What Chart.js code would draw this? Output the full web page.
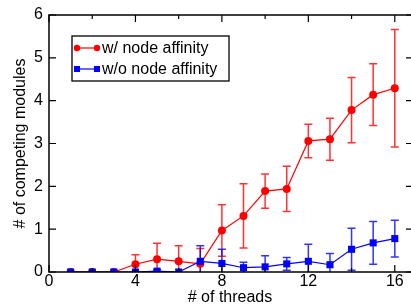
<!DOCTYPE html>
<html lang="en">
<head>
    <meta charset="UTF-8">
    <title>Competing modules vs threads</title>
    <style>
        body { margin: 0; padding: 0; background: #ffffff; }
        #wrap { width: 411px; height: 306px; }
    </style>
</head>
<body>
    <div id="wrap"><canvas id="myChart" width="411" height="306"></canvas></div>

    <script src="https://cdn.jsdelivr.net/npm/chart.js"></script>
    <script>
        // data
        const threads = [1, 2, 3, 4, 5, 6, 7, 8, 9, 10, 11, 12, 13, 14, 15, 16];
        const withAffinity = [0, 0, 0, 0.18, 0.30, 0.25, 0.19, 0.97, 1.31, 1.89, 1.94, 3.06, 3.10, 3.78, 4.14, 4.29];
        const withAffinityErr = [0, 0, 0, 0.22, 0.37, 0.36, 0.36, 0.60, 0.75, 0.40, 0.53, 0.39, 0.49, 0.76, 0.72, 1.37];
        const withoutAffinity = [0, 0, 0, 0, 0.02, 0, 0.25, 0.20, 0.10, 0.12, 0.19, 0.25, 0.17, 0.53, 0.68, 0.78];
        const withoutAffinityErr = [0, 0, 0, 0, 0.03, 0, 0.36, 0.33, 0.13, 0.26, 0.15, 0.40, 0.26, 0.49, 0.50, 0.43];
        const xTicks = [0, 4, 8, 12, 16];
        const xMinorTicks = [2, 6, 10, 14];
        const yTicks = [0, 1, 2, 3, 4, 5, 6];
        const seriesNames = ['w/ node affinity', 'w/o node affinity'];

        const FONT = '"Liberation Sans", Arial, Helvetica, sans-serif';

        function toPoints(ys) {
            return threads.map((t, i) => ({ x: t, y: ys[i] }));
        }

        // error bars, frame, inward ticks and boxed legend
        const decorPlugin = {
            id: 'decor',
            beforeDatasetsDraw(chart) {
                const ctx = chart.ctx;
                const xs = chart.scales.x, ys = chart.scales.y;
                const a = chart.chartArea;
                const sets = [
                    { vals: withAffinity, errs: withAffinityErr, color: 'rgba(255,0,0,0.8)' },
                    { vals: withoutAffinity, errs: withoutAffinityErr, color: 'rgba(0,0,255,0.8)' }
                ];
                ctx.save();
                ctx.beginPath();
                ctx.rect(a.left, a.top, a.right - a.left, a.bottom - a.top);
                ctx.clip();
                ctx.lineWidth = 1.5;
                sets.forEach(s => {
                    ctx.strokeStyle = s.color;
                    threads.forEach((t, i) => {
                        const e = s.errs[i];
                        if (!e) return;
                        const px = xs.getPixelForValue(t);
                        const hi = ys.getPixelForValue(s.vals[i] + e);
                        const lo = ys.getPixelForValue(s.vals[i] - e);
                        ctx.beginPath();
                        ctx.moveTo(px, hi); ctx.lineTo(px, lo);
                        ctx.moveTo(px - 4, hi); ctx.lineTo(px + 4, hi);
                        ctx.moveTo(px - 4, lo); ctx.lineTo(px + 4, lo);
                        ctx.stroke();
                    });
                });
                ctx.restore();
            },
            afterDraw(chart) {
                const ctx = chart.ctx;
                const xs = chart.scales.x, ys = chart.scales.y;
                const a = chart.chartArea;
                ctx.save();
                ctx.strokeStyle = '#000';
                ctx.lineWidth = 1.5;
                // frame: right edge falls just outside the picture
                ctx.beginPath();
                ctx.moveTo(a.right, a.top);
                ctx.lineTo(a.left, a.top);
                ctx.lineTo(a.left, a.bottom);
                ctx.lineTo(a.right, a.bottom);
                ctx.stroke();

                ctx.lineWidth = 1.2;
                ctx.beginPath();
                xTicks.forEach(v => {
                    const px = xs.getPixelForValue(v);
                    ctx.moveTo(px, a.bottom); ctx.lineTo(px, a.bottom - 7);
                    ctx.moveTo(px, a.top); ctx.lineTo(px, a.top + 7);
                });
                xMinorTicks.forEach(v => {
                    const px = xs.getPixelForValue(v);
                    ctx.moveTo(px, a.bottom); ctx.lineTo(px, a.bottom - 4);
                    ctx.moveTo(px, a.top); ctx.lineTo(px, a.top + 4);
                });
                yTicks.forEach(v => {
                    const py = ys.getPixelForValue(v);
                    ctx.moveTo(a.left, py); ctx.lineTo(a.left + 7, py);
                    ctx.moveTo(a.right, py); ctx.lineTo(a.right - 5, py);
                });
                ctx.stroke();

                // legend box
                const bx = a.left + 23, by = a.top + 21, bw = 157, bh = 45;
                ctx.fillStyle = '#fff';
                ctx.fillRect(bx, by, bw, bh);
                ctx.lineWidth = 1.3;
                ctx.strokeRect(bx, by, bw, bh);
                const rows = [
                    { name: seriesNames[0], color: '#ff0000', shape: 'circle', y: by + 12 },
                    { name: seriesNames[1], color: '#0000ff', shape: 'rect', y: by + 33 }
                ];
                rows.forEach(r => {
                    const x0 = bx + 5, x1 = bx + 25;
                    ctx.strokeStyle = r.color;
                    ctx.fillStyle = r.color;
                    ctx.lineWidth = 1.2;
                    ctx.beginPath();
                    ctx.moveTo(x0, r.y); ctx.lineTo(x1, r.y);
                    ctx.stroke();
                    [x0, x1].forEach(px => {
                        ctx.beginPath();
                        if (r.shape === 'circle') {
                            ctx.arc(px, r.y, 3.2, 0, Math.PI * 2);
                        } else {
                            ctx.rect(px - 3, r.y - 3, 6, 6);
                        }
                        ctx.fill();
                    });
                    ctx.fillStyle = '#000';
                    ctx.font = '16px ' + FONT;
                    ctx.textBaseline = 'middle';
                    ctx.fillText(r.name, bx + 30, r.y + 1);
                });
                ctx.restore();
            }
        };

        const ctx = document.getElementById('myChart').getContext('2d');
        const chart = new Chart(ctx, {
            type: 'line',
            data: {
                datasets: [{
                    label: seriesNames[0],
                    data: toPoints(withAffinity),
                    borderColor: '#ff0000',
                    backgroundColor: '#ff0000',
                    borderWidth: 1.2,
                    pointStyle: 'circle',
                    pointRadius: 4,
                    pointBorderWidth: 0,
                    order: 2
                }, {
                    label: seriesNames[1],
                    data: toPoints(withoutAffinity),
                    borderColor: '#0000ff',
                    backgroundColor: '#0000ff',
                    borderWidth: 1.2,
                    pointStyle: 'rect',
                    pointRadius: 5,
                    pointBorderWidth: 0,
                    order: 1
                }]
            },
            options: {
                responsive: false,
                animation: false,
                layout: { autoPadding: false, padding: { left: 13, top: 15, right: 0, bottom: 0 } },
                plugins: {
                    legend: { display: false },
                    tooltip: { enabled: false }
                },
                scales: {
                    x: {
                        type: 'linear',
                        min: 0,
                        max: 16.75,
                        afterBuildTicks: axis => { axis.ticks = xTicks.map(v => ({ value: v })); },
                        afterFit: axis => { axis.height = 34; axis.paddingRight = 0; },
                        grid: { display: false, drawTicks: false },
                        border: { display: false },
                        ticks: {
                            color: '#000',
                            padding: 2,
                            maxRotation: 0,
                            font: { family: FONT, size: 16, lineHeight: 1 }
                        },
                        title: {
                            display: true,
                            text: '# of threads',
                            color: '#000',
                            padding: { top: 0, bottom: 0 },
                            font: { family: FONT, size: 16, lineHeight: 1 }
                        }
                    },
                    y: {
                        min: 0,
                        max: 6,
                        afterBuildTicks: axis => { axis.ticks = yTicks.map(v => ({ value: v })); },
                        afterFit: axis => { axis.width = 36; },
                        grid: { display: false, drawTicks: false },
                        border: { display: false },
                        ticks: {
                            color: '#000',
                            padding: 6,
                            font: { family: FONT, size: 16, lineHeight: 1 }
                        },
                        title: {
                            display: true,
                            text: '# of competing modules',
                            color: '#000',
                            padding: { top: 0, bottom: 0 },
                            font: { family: FONT, size: 16, lineHeight: 1 }
                        }
                    }
                }
            },
            plugins: [decorPlugin]
        });
    </script>
</body>
</html>
